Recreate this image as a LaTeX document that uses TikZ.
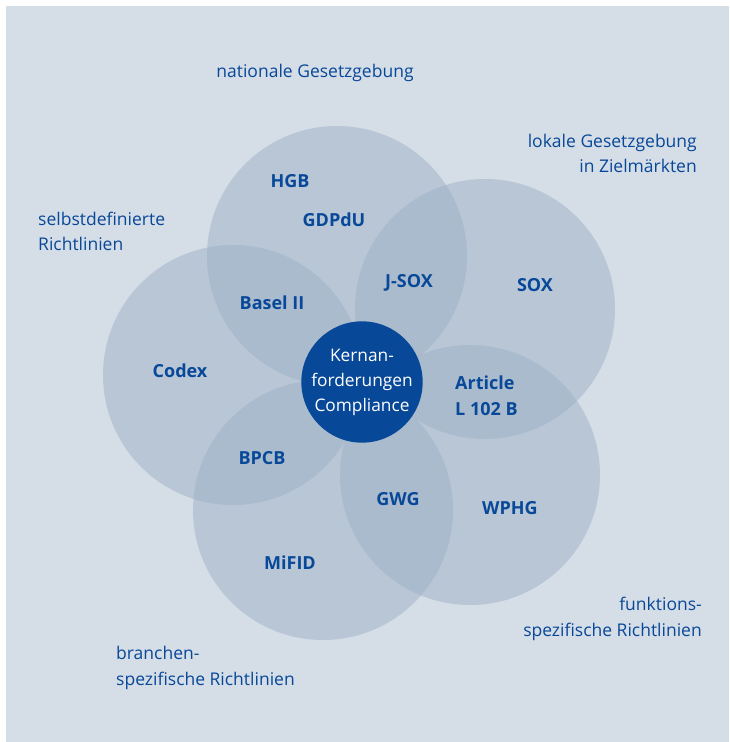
\documentclass[tikz,border=0pt]{standalone}
\usepackage{fontspec}
\setmainfont{Open Sans}
\definecolor{bgc}{RGB}{213,221,231}
\definecolor{circc}{RGB}{157,177,199}
\definecolor{dblue}{RGB}{8,72,152}
\begin{document}
\begin{tikzpicture}[x=1pt,y=-1pt,
  ring/.style={circle,fill=circc,fill opacity=0.5,minimum size=260pt,inner sep=0pt},
  outer/.style={text=dblue,font=\fontsize{17.5}{25.5}\selectfont,inner sep=0pt},
  lbl/.style={text=dblue,font=\fontsize{18}{26}\selectfont\bfseries,inner sep=0pt},
  core/.style={circle,fill=dblue,minimum size=118pt,inner sep=0pt,text=white,align=center,font=\fontsize{17.3}{25}\selectfont}]
\useasboundingbox (0,0) rectangle (729,742);
\fill[bgc] (6,6) rectangle (729,742);
\node[ring] (c1) at (337,256) {};
\node[ring] (c2) at (485,309) {};
\node[ring] (c3) at (470,475) {};
\node[ring] (c4) at (323,510) {};
\node[ring] (c5) at (233,375) {};
\node[core] (core) at (362,382) {Kernan-\\forderungen\\Compliance};
\node[outer] (t1) at (315,73) {nationale Gesetzgebung};
\node[outer,anchor=east,align=right] (t2) at (697,153.5) {lokale Gesetzgebung\\in Zielmärkten};
\node[outer,anchor=west,align=left] (t3) at (38,231.5) {selbstdefinierte\\Richtlinien};
\node[outer,anchor=east,align=right] (t4) at (702,619) {funktions-\\spezifische Richtlinien};
\node[outer,anchor=west,align=left] (t5) at (116,668) {branchen-\\spezifische Richtlinien};
\node[lbl] (hgb) at (290,181) {HGB};
\node[lbl] (gdpdu) at (334,220) {GDPdU};
\node[lbl] (jsox) at (409,283) {J-SOX};
\node[lbl] (sox) at (535,285) {SOX};
\node[lbl] (basel) at (272,303) {Basel II};
\node[lbl] (codex) at (180,371) {Codex};
\node[lbl,anchor=west,align=left] (art) at (455,396) {Article\\L 102 B};
\node[lbl] (bpcb) at (262,458) {BPCB};
\node[lbl] (gwg) at (398,499) {GWG};
\node[lbl] (wphg) at (510,508) {WPHG};
\node[lbl] (mifid) at (290,563) {MiFID};
\end{tikzpicture}
\end{document}
